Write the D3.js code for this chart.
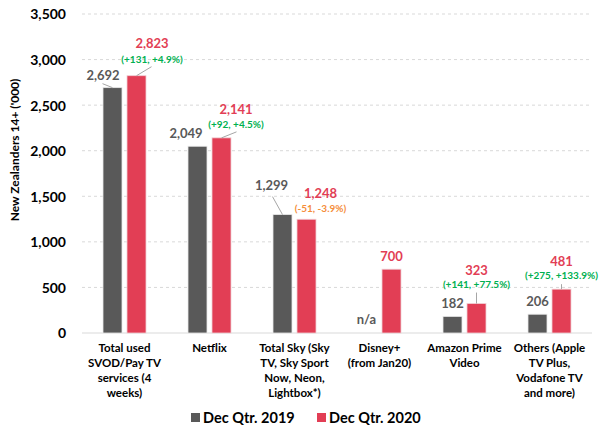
<!DOCTYPE html>
<html>
<head>
<meta charset="utf-8">
<script src="https://cdn.jsdelivr.net/npm/d3@7"></script>
<style>
  html, body { margin: 0; padding: 0; background: #fff; }
  svg { display: block; font-family: Lato, "Open Sans", sans-serif; font-weight: bold; }
</style>
</head>
<body>
<svg id="chart" width="602" height="436"></svg>
<script>
// ---- data ----
const categories = [
  ["Total used", "SVOD/Pay TV", "services (4", "weeks)"],
  ["Netflix"],
  ["Total Sky (Sky", "TV, Sky Sport", "Now, Neon,", "Lightbox*)"],
  ["Disney+", "(from Jan20)"],
  ["Amazon Prime", "Video"],
  ["Others (Apple", "TV Plus,", "Vodafone TV", "and more)"]
];
const series = ["Dec Qtr. 2019", "Dec Qtr. 2020"];
const values2019 = [2692, 2049, 1299, null, 182, 206];
const values2020 = [2823, 2141, 1248, 700, 323, 481];
const changeLabels = ["(+131, +4.9%)", "(+92, +4.5%)", "(-51, -3.9%)", "", "(+141, +77.5%)", "(+275, +133.9%)"];
const changeUp = [true, true, false, null, true, true];
const yTicks = [0, 500, 1000, 1500, 2000, 2500, 3000, 3500];

// ---- label layout (offsets relative to bar top/centre) ----
const lab2019 = [
  {dx: -9.5, dy: -7.5, lead: [0, 0, -10, -4]},
  {dx: -11.5, dy: -8, lead: null},
  {dx: -11, dy: -24.5, lead: [0, 0, -10, -18]},
  {dx: -1, dy: -9, lead: null},
  {dx: 0, dy: -8, lead: null},
  {dx: 0, dy: -8, lead: null}
];
const lab2020 = [
  {dx: 15.5, dy: -27.5, cdy: -12.5, lead: [0, 0, 15, -9]},
  {dx: 14.5, dy: -24, cdy: -10, lead: [0, 0, 15, -6]},
  {dx: 14, dy: -21, cdy: -7, lead: null},
  {dx: 0, dy: -8, cdy: 0, lead: null},
  {dx: 0, dy: -28.5, cdy: -15.5, lead: [0, 0, 0, -11]},
  {dx: 0, dy: -23, cdy: -10, lead: [0, 0, 0, -5]}
];

const colors = ["#595959", "#e23e55"];
const colUp = "#00b050", colDown = "#f58d3a";

const svg = d3.select("#chart");
const margin = {left: 82, right: 10, top: 14, bottom: 103};
const W = 602, H = 436;
const x = d3.scaleBand().domain(d3.range(categories.length)).range([margin.left, W - margin.right]).padding(0);
const y = d3.scaleLinear().domain([0, 3500]).range([H - margin.bottom, margin.top]);
const barW = 19, gap = 5;

// gridlines
svg.append("g").selectAll("line").data(yTicks.filter(d => d > 0)).join("line")
  .attr("x1", margin.left).attr("x2", W - margin.right)
  .attr("y1", d => y(d)).attr("y2", d => y(d))
  .attr("stroke", "#d9d9d9").attr("stroke-width", 1).attr("stroke-dasharray", "3,3");

// y axis
const yAxis = d3.axisLeft(y).tickValues(yTicks).tickSize(0).tickPadding(0).tickFormat(d3.format(","));
const gy = svg.append("g").attr("transform", `translate(${margin.left - 16},0)`).call(yAxis);
gy.select(".domain").remove();
gy.selectAll("text").attr("font-size", 14).attr("fill", "#000").attr("font-weight", "bold")
  .attr("font-family", "Lato, sans-serif").attr("dy", "0.35em");

// baseline
svg.append("line").attr("x1", margin.left).attr("x2", W - margin.right)
  .attr("y1", y(0)).attr("y2", y(0)).attr("stroke", "#d9d9d9").attr("stroke-width", 1.2);

// axis title
svg.append("text").attr("transform", `translate(19,150) rotate(-90)`)
  .attr("text-anchor", "middle").attr("font-size", 12).attr("fill", "#000")
  .text("New Zealanders 14+ ('000)");

const cx0 = i => x(i) + x.bandwidth() / 2 - gap / 2 - barW / 2;
const cx1 = i => x(i) + x.bandwidth() / 2 + gap / 2 + barW / 2;

// bars
const gb = svg.append("g");
gb.selectAll("rect.s0").data(values2019.map((v, i) => ({v, i})).filter(d => d.v != null)).join("rect")
  .attr("x", d => cx0(d.i) - barW / 2).attr("width", barW)
  .attr("y", d => y(d.v)).attr("height", d => y(0) - y(d.v))
  .attr("fill", colors[0]).attr("stroke", "#e8e8e8").attr("stroke-width", 0.8);
gb.selectAll("rect.s1").data(values2020.map((v, i) => ({v, i}))).join("rect")
  .attr("x", d => cx1(d.i) - barW / 2).attr("width", barW)
  .attr("y", d => y(d.v)).attr("height", d => y(0) - y(d.v))
  .attr("fill", colors[1]).attr("stroke", "#f0d0d5").attr("stroke-width", 0.8);

// leader lines
const gl = svg.append("g").attr("stroke", "#a6a6a6").attr("stroke-width", 1);
values2019.forEach((v, i) => {
  const L = lab2019[i].lead;
  if (v != null && L) {
    gl.append("line").attr("x1", cx0(i) + L[0]).attr("y1", y(v) + L[1]).attr("x2", cx0(i) + L[2]).attr("y2", y(v) + L[3]);
  }
});
values2020.forEach((v, i) => {
  const L = lab2020[i].lead;
  if (L) {
    gl.append("line").attr("x1", cx1(i) + L[0]).attr("y1", y(v) + L[1]).attr("x2", cx1(i) + L[2]).attr("y2", y(v) + L[3]);
  }
});

// value labels
const fmt = d3.format(",");
const gt = svg.append("g").attr("text-anchor", "middle");
values2019.forEach((v, i) => {
  const o = lab2019[i];
  gt.append("text").attr("x", cx0(i) + o.dx).attr("y", y(v == null ? 0 : v) + o.dy)
    .attr("font-size", 13).attr("fill", colors[0]).text(v == null ? "n/a" : fmt(v));
});
values2020.forEach((v, i) => {
  const o = lab2020[i];
  gt.append("text").attr("x", cx1(i) + o.dx).attr("y", y(v) + o.dy)
    .attr("font-size", 13).attr("fill", colors[1]).text(fmt(v));
  if (changeLabels[i]) {
    gt.append("text").attr("x", cx1(i) + o.dx).attr("y", y(v) + o.cdy)
      .attr("font-size", 10).attr("fill", changeUp[i] ? colUp : colDown).text(changeLabels[i]);
  }
});

// category labels
const gc = svg.append("g").attr("text-anchor", "middle");
categories.forEach((lines, i) => {
  const t = gc.append("text").attr("x", x(i) + x.bandwidth() / 2).attr("y", 352)
    .attr("font-size", 11.5).attr("fill", "#000");
  lines.forEach((ln, k) => t.append("tspan").attr("x", x(i) + x.bandwidth() / 2).attr("dy", k === 0 ? 0 : 15).text(ln));
});

// legend
const legX = [191, 317];
const gLeg = svg.append("g");
series.forEach((s, k) => {
  gLeg.append("rect").attr("x", legX[k]).attr("y", 413).attr("width", 9).attr("height", 9).attr("fill", colors[k]);
  gLeg.append("text").attr("x", legX[k] + 12).attr("y", 422.5).attr("font-size", 14.5).attr("fill", "#000").text(s);
});
</script>
</body>
</html>
